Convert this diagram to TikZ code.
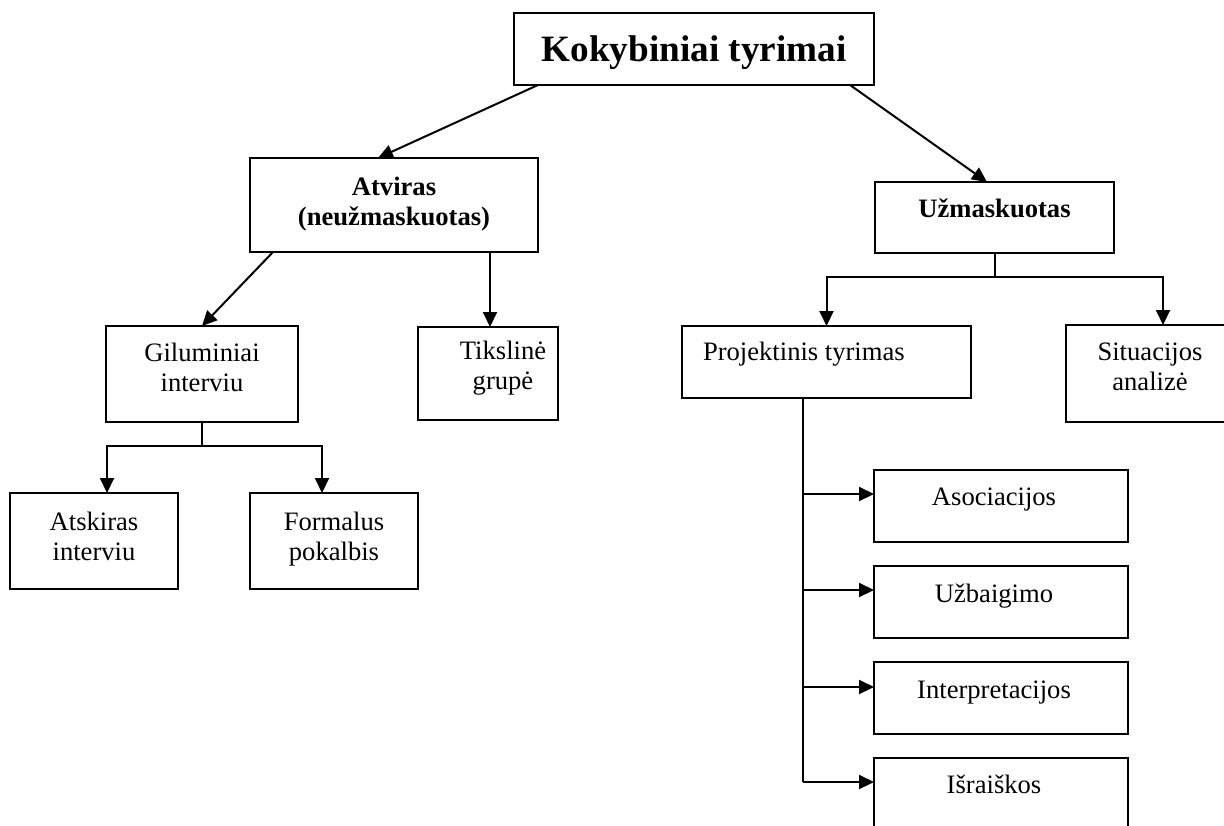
\documentclass[tikz,border=0pt]{standalone}
\usepackage{fontspec}
\setmainfont{Liberation Serif}
\usetikzlibrary{arrows.meta,calc}
\newcommand\bxt[5]{\parbox[c][#2pt][t]{#1pt}{#4\rule{0pt}{#3pt}#5}}
\newcommand\bodyf{\fontsize{13.3}{15}\selectfont}
\newcommand\titlef{\fontsize{18.6}{22}\selectfont\bfseries}
\newcommand\lcent{\centering\rightskip=7pt plus 1fil}
\begin{document}
\begin{tikzpicture}[x=0.5pt,y=-0.5pt,
  box/.style={draw, line width=1pt, inner sep=0pt, outer sep=0pt, font=\bodyf},
  conn/.style={line width=1pt},
  arr/.style={line width=1pt, -{Triangle[length=7.5pt,width=7pt]}}]
\useasboundingbox (0,0) rectangle (1224,825);
\clip (0,0) rectangle (1224,825);
% boxes
\node[box] (top) at (694,49) {\bxt{180}{36}{24}{\centering\titlef}{Kokybiniai tyrimai}};
\node[box] (atv) at (394,205) {\bxt{144}{47}{18.5}{\centering\bfseries}{Atviras\\(neužmaskuotas)}};
\node[box] (uzm) at (994.5,217.5) {\bxt{119.5}{35.5}{17.5}{\centering\bfseries}{Užmaskuotas}};
\node[box] (gil) at (202,374) {\bxt{96}{48}{17.5}{\centering}{Giluminiai\\interviu}};
\node[box] (tiks) at (488,373.5) {\bxt{70}{46.5}{16}{\centering\leftskip=15pt plus 1fil}{Tikslinė\\grupė}};
\node[box] (atsk) at (94,541) {\bxt{84}{48}{18.5}{\centering}{Atskiras\\interviu}};
\node[box] (form) at (334,541) {\bxt{84}{48}{18.5}{\centering}{Formalus\\pokalbis}};
\node[box] (proj) at (826.5,362) {\bxt{144.5}{36}{17}{\raggedright\hspace*{10.5pt}}{Projektinis tyrimas}};
\node[box] (situ) at (1150,373.5) {\bxt{84}{48.5}{17.5}{\centering}{Situacijos\\analizė}};
\node[box] (asoc) at (1001,506) {\bxt{127}{36}{17.5}{\lcent}{Asociacijos}};
\node[box] (uzb) at (1001,602) {\bxt{127}{36}{18}{\lcent}{Užbaigimo}};
\node[box] (intp) at (1001,698) {\bxt{127}{36}{18}{\lcent}{Interpretacijos}};
\node[box] (isr) at (1001,794) {\bxt{127}{36}{17.5}{\lcent}{Išraiškos}};
% connectors
\draw[arr] ([xshift=12pt]top.south west) -- ([xshift=64pt]atv.north west);
\draw[arr] ([xshift=-12pt]top.south east) -- ([xshift=56pt]uzm.north west);
\draw[arr] ([xshift=11.5pt]atv.south west) -- (gil.north);
\coordinate (tstem) at ([xshift=-24pt]atv.south east);
\draw[arr] (tstem) -- (tstem |- tiks.north);
% gil fork
\draw[conn] (gil.south) -- ++(0,24) coordinate (gfork);
\draw[arr] (gfork) -| ([xshift=6.5pt]atsk.north);
\draw[arr] (gfork) -| ([xshift=-6pt]form.north);
% uzm fork
\draw[conn] (uzm.south) -- ++(0,24) coordinate (ufork);
\draw[arr] (ufork) -| (proj.north);
\draw[arr] (ufork) -| ([xshift=6.5pt]situ.north);
% proj stem
\coordinate (pstem) at ([xshift=60.5pt]proj.south west);
\coordinate (b1) at ([yshift=-12pt]asoc.north west);
\coordinate (b2) at ([yshift=-12pt]uzb.north west);
\coordinate (b3) at ([yshift=-12.5pt]intp.north west);
\coordinate (b4) at ([yshift=-12pt]isr.north west);
\draw[conn] (pstem) -- (pstem |- b4);
\draw[arr] (pstem |- b1) -- (b1);
\draw[arr] (pstem |- b2) -- (b2);
\draw[arr] (pstem |- b3) -- (b3);
\draw[arr] (pstem |- b4) -- (b4);
\end{tikzpicture}
\end{document}
